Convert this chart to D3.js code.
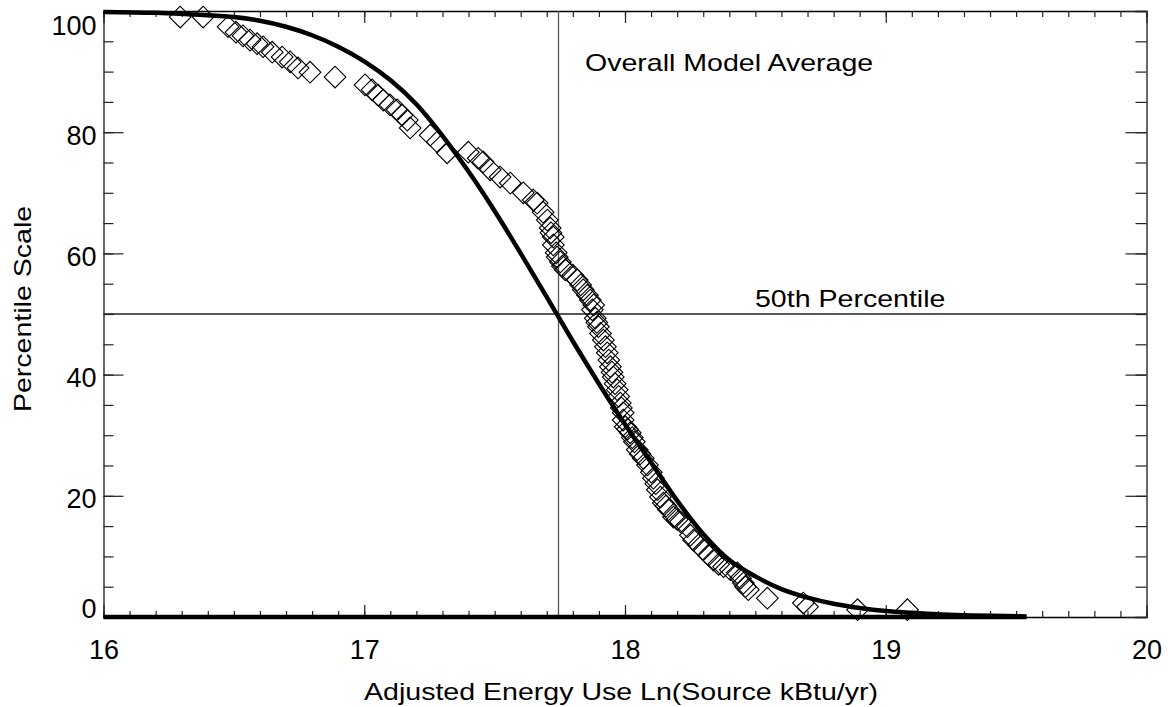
<!DOCTYPE html>
<html>
<head>
<meta charset="utf-8">
<script src="https://cdn.jsdelivr.net/npm/d3@7"></script>
<style>
  html, body { margin: 0; padding: 0; background: #fff; }
  svg { display: block; }
  text { font-family: "Liberation Sans", Arial, Helvetica, sans-serif; fill: #000; }
</style>
</head>
<body>
<svg id="chart" width="1168" height="707"></svg>
<script>
// ---- data ----
const xTicks = [16, 17, 18, 19, 20];
const yTicks = [0, 20, 40, 60, 80, 100];
const xTitle = "Adjusted Energy Use Ln(Source kBtu/yr)";
const yTitle = "Percentile Scale";
const avgLabel = "Overall Model Average";
const medLabel = "50th Percentile";
const modelAverage = 17.745;
const medianLevel = 50;

// fitted model curve
const curveX = [16.0, 16.2, 16.4, 16.5, 16.6, 16.7, 16.8, 16.9, 17.0, 17.1, 17.2, 17.3, 17.4, 17.5, 17.6, 17.7,
                17.8, 17.9, 18.0, 18.1, 18.2, 18.3, 18.4, 18.5, 18.6, 18.7, 18.8, 18.9, 19.0, 19.1, 19.2, 19.3, 19.4, 19.54];
const curveY = [99.85, 99.7, 99.3, 99.0, 98.4, 97.4, 96.0, 94.1, 91.7, 88.6, 84.6, 79.4, 73.5, 67.0, 60.0, 52.8,
                45.5, 38.5, 31.8, 25.5, 19.2, 13.7, 9.4, 6.7, 4.6, 3.2, 2.2, 1.5, 1.0, 0.7, 0.45, 0.3, 0.2, 0.1];

// observed buildings (diamonds)
const obsX = [16.294, 16.382, 16.478, 16.508, 16.535, 16.562, 16.589, 16.612, 16.647, 16.685, 16.716, 16.746, 16.792, 16.888,
              17.003, 17.030, 17.053, 17.073, 17.099, 17.126, 17.145, 17.165, 17.176, 17.253, 17.280, 17.318, 17.399, 17.437,
              17.456, 17.483, 17.521, 17.560, 17.610, 17.648, 17.663, 17.686, 17.702, 17.713, 17.716, 17.725, 17.725, 17.740,
              17.736, 17.752, 17.760, 17.771, 17.800, 17.817, 17.830, 17.840, 17.856, 17.867, 17.875, 17.880, 17.886, 17.892,
              17.898, 17.906, 17.917, 17.925, 17.932, 17.938, 17.944, 17.950, 17.955, 17.962, 17.970, 17.976, 17.982, 17.986,
              17.993, 17.993, 18.001, 18.010, 18.020, 18.028, 18.036, 18.047, 18.058, 18.070, 18.086, 18.101, 18.109, 18.118,
              18.124, 18.136, 18.147, 18.157, 18.167, 18.186, 18.200, 18.213, 18.239, 18.251, 18.263, 18.282, 18.301, 18.320,
              18.339, 18.359, 18.378, 18.404, 18.431, 18.443, 18.454, 18.462, 18.473, 18.546, 18.684, 18.700, 18.892, 19.083];
const obsY = [99.0, 99.0, 97.4, 96.5, 95.9, 95.2, 94.6, 94.1, 93.2, 92.4, 91.6, 90.6, 89.9, 89.1,
              87.8, 87.0, 86.1, 85.3, 84.5, 83.7, 82.8, 82.0, 80.7, 79.5, 78.4, 76.6, 76.7, 75.7,
              75.1, 73.8, 72.6, 71.6, 70.0, 68.8, 68.3, 66.8, 65.5, 64.2, 63.4, 62.7, 61.4, 59.4,
              60.1, 58.6, 57.9, 57.3, 56.4, 55.6, 54.8, 54.0, 53.1, 52.3, 50.7, 51.5, 49.3, 48.6,
              47.9, 46.8, 45.7, 44.6, 43.6, 42.4, 41.3, 40.4, 39.6, 38.5, 37.5, 36.4, 35.3, 34.5,
              33.7, 32.5, 31.4, 31.0, 30.4, 29.6, 28.9, 27.6, 26.9, 26.2, 25.1, 23.9, 22.9, 22.0,
              21.0, 19.8, 18.8, 18.3, 17.7, 16.5, 16.1, 15.7, 14.9, 13.5, 12.7, 11.9, 11.1, 10.2,
              9.4, 8.7, 8.3, 7.8, 7.3, 6.4, 5.6, 5.0, 4.5, 3.1, 2.3, 1.7, 1.2, 1.2];

// ---- layout ----
const svg = d3.select("#chart");
const L = 103.5, R = 1146.5, T = 11, B = 617;
const x = d3.scaleLinear().domain([16, 20]).range([L, R]);
const y = d3.scaleLinear().domain([0, 100]).range([B, T]);

const xMinor = d3.range(16, 20.0001, 0.1).map(v => +v.toFixed(1));
const yMinor = d3.range(0, 100.0001, 5);

function styleAxis(g, color, w) {
  g.select(".domain").attr("stroke", color).attr("stroke-width", w);
  g.selectAll(".tick line").attr("stroke", "#222").attr("stroke-width", 1.2);
}

// minor ticks
svg.append("g").attr("transform", `translate(0,${B})`)
  .call(d3.axisBottom(x).tickValues(xMinor).tickSize(-6).tickFormat(""))
  .call(g => styleAxis(g, "#000", 1.5));
svg.append("g").attr("transform", `translate(0,${T})`)
  .call(d3.axisTop(x).tickValues(xMinor).tickSize(-6).tickFormat(""))
  .call(g => styleAxis(g, "#000", 1.5));
svg.append("g").attr("transform", `translate(${L},0)`)
  .call(d3.axisLeft(y).tickValues(yMinor).tickSize(-10).tickFormat(""))
  .call(g => styleAxis(g, "#444", 1.6));
svg.append("g").attr("transform", `translate(${R},0)`)
  .call(d3.axisRight(y).tickValues(yMinor).tickSize(-11).tickFormat(""))
  .call(g => styleAxis(g, "#444", 1.6));

// major ticks + labels
svg.append("g").attr("transform", `translate(0,${B})`)
  .call(d3.axisBottom(x).tickValues(xTicks).tickSize(-12).tickPadding(23).tickFormat(d3.format("d")))
  .call(g => { g.select(".domain").remove(); g.selectAll(".tick line").attr("stroke", "#222").attr("stroke-width", 1.2);
               g.selectAll("text").style("font-size", "27px").style("font-family", "Liberation Sans, Arial, sans-serif").attr("fill", "#000"); });
svg.append("g").attr("transform", `translate(0,${T})`)
  .call(d3.axisTop(x).tickValues(xTicks).tickSize(-12).tickFormat(""))
  .call(g => { g.select(".domain").remove(); g.selectAll(".tick line").attr("stroke", "#222").attr("stroke-width", 1.2); });
const yLabelShift = {0: -9, 100: 14};
svg.append("g").attr("transform", `translate(${L},0)`)
  .call(d3.axisLeft(y).tickValues(yTicks).tickSize(-20).tickPadding(7).tickFormat(d3.format("d")))
  .call(g => { g.select(".domain").remove(); g.selectAll(".tick line").attr("stroke", "#222").attr("stroke-width", 1.2);
               g.selectAll("text").style("font-size", "27px").style("font-family", "Liberation Sans, Arial, sans-serif").attr("fill", "#000")
                 .attr("dy", d => (yLabelShift[d] !== undefined ? yLabelShift[d] : 3) + 9 + "px"); });
svg.append("g").attr("transform", `translate(${R},0)`)
  .call(d3.axisRight(y).tickValues(yTicks).tickSize(-21).tickFormat(""))
  .call(g => { g.select(".domain").remove(); g.selectAll(".tick line").attr("stroke", "#222").attr("stroke-width", 1.2); });

// reference lines
svg.append("line")
  .attr("x1", x(modelAverage)).attr("x2", x(modelAverage))
  .attr("y1", y(100)).attr("y2", y(0))
  .attr("stroke", "#555").attr("stroke-width", 1.3);
svg.append("line")
  .attr("x1", x(16)).attr("x2", x(20))
  .attr("y1", y(medianLevel)).attr("y2", y(medianLevel))
  .attr("stroke", "#222").attr("stroke-width", 1.3);

// diamonds
const diamond = d3.symbol().type(d3.symbolSquare).size(235);
const obs = obsX.map((v, i) => ({x: v, y: obsY[i]}));
svg.append("g").selectAll("path").data(obs).join("path")
  .attr("d", diamond)
  .attr("transform", d => `translate(${x(d.x)},${y(d.y)}) rotate(45)`)
  .attr("fill", "none").attr("stroke", "#000").attr("stroke-width", 1.1);

// model curve
const curveData = curveX.map((v, i) => ({x: v, y: curveY[i]}));
const line = d3.line().x(d => x(d.x)).y(d => y(d.y)).curve(d3.curveBasis);
const straight = d3.line().x(d => x(d.x)).y(d => y(d.y));
svg.append("path").datum(curveData)
  .attr("d", d3.line().x(d => x(d.x)).y(d => y(d.y)).curve(d3.curveCatmullRom.alpha(0.5)))
  .attr("fill", "none").attr("stroke", "#000").attr("stroke-width", 4.5)
  .attr("stroke-linejoin", "round");
// closing baseline of curve at zero
svg.append("path").datum([{x: curveX[0], y: 0}, {x: curveX[curveX.length - 1], y: 0}])
  .attr("d", straight).attr("fill", "none").attr("stroke", "#000").attr("stroke-width", 4.5);

// texts (horizontally stretched like the original renderer)
const SX = 1.19;
function stretchedText(tx, ty, str, anchor, rot) {
  const g = svg.append("g").attr("transform", `translate(${tx},${ty}) rotate(${rot || 0}) scale(${SX},1)`);
  g.append("text").attr("text-anchor", anchor).style("font-size", "24px").text(str);
}
stretchedText(585, 71, avgLabel, "start");
stretchedText(755, 307, medLabel, "start");
stretchedText(621, 700, xTitle, "middle");
stretchedText(31, 309, yTitle, "middle", -90);
</script>
</body>
</html>
